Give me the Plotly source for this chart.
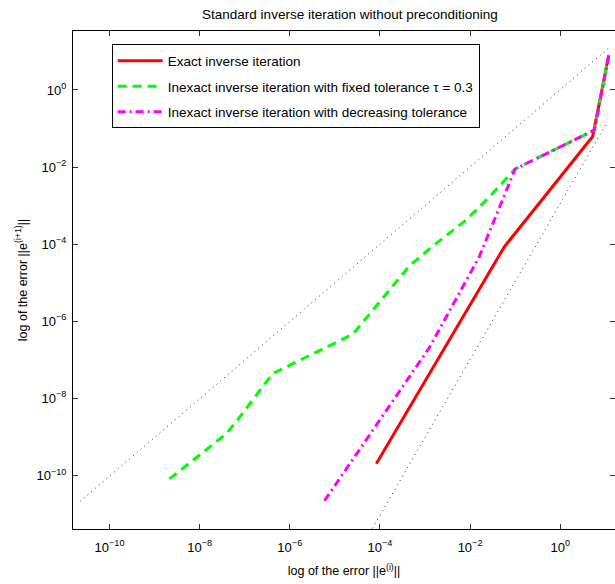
import plotly.graph_objects as go

# Data
exact_x = [8.3e-5, 5.75e-2, 5.25, 12.0]
exact_y = [2.0e-10, 8.5e-5, 6.2e-2, 8.1]

fixed_x = [2.14e-9, 1.0e-8, 3.9e-8, 7.8e-8, 4.2e-7, 8.3e-7, 2.5e-5, 4.2e-5,
           1.38e-4, 4.6e-4, 1.78e-3, 8.1e-3, 2.7e-2, 0.1, 5.75, 12.0]
fixed_y = [8.1e-11, 3.3e-10, 1.2e-9, 3.3e-9, 4.4e-8, 6.5e-8, 4.6e-7, 9.5e-7,
           5.2e-6, 2.8e-5, 1.05e-4, 4.2e-4, 1.7e-3, 8.9e-3, 9.1e-2, 8.1]

decr_x = [5.9e-6, 1.26e-3, 1.6e-2, 6.9e-2, 0.1, 5.75, 12.0]
decr_y = [2.2e-11, 2.1e-7, 4.7e-5, 3.1e-3, 8.9e-3, 9.1e-2, 8.1]

ref1_x = [2.2e-11, 11.7]
ref1_y = [2.1e-11, 12.0]
ref2_x = [6.8e-5, 11.2]
ref2_y = [4.2e-12, 0.15]

tick_vals = [1e-10, 1e-8, 1e-6, 1e-4, 1e-2, 1e0]
tick_text = ["10<sup>\u221210</sup>", "10<sup>\u22128</sup>", "10<sup>\u22126</sup>",
             "10<sup>\u22124</sup>", "10<sup>\u22122</sup>", "10<sup>0</sup>"]

names = ["Exact inverse iteration",
         "Inexact inverse iteration with fixed tolerance \u03c4 = 0.3",
         "Inexact inverse iteration with decreasing tolerance"]

FONT = "Liberation Sans, Arial, sans-serif"

fig = go.Figure()
fig.add_trace(go.Scatter(x=ref1_x, y=ref1_y, mode="lines", showlegend=False,
                         line=dict(color="#333333", width=1, dash="1px,4px")))
fig.add_trace(go.Scatter(x=ref2_x, y=ref2_y, mode="lines", showlegend=False,
                         line=dict(color="#333333", width=1, dash="1px,4px")))
fig.add_trace(go.Scatter(x=exact_x, y=exact_y, mode="lines", name=names[0],
                         legendgroup="a",
                         line=dict(color="#FF0000", width=3)))
fig.add_trace(go.Scatter(x=fixed_x, y=fixed_y, mode="lines", name=names[1],
                         legendgroup="b",
                         line=dict(color="#00FF00", width=3, dash="9px,6px")))
fig.add_trace(go.Scatter(x=decr_x, y=decr_y, mode="lines", name=names[2],
                         legendgroup="c",
                         line=dict(color="#FF00FF", width=3, dash="8px,4px,2px,4px")))

axis_common = dict(type="log", tickmode="array", tickvals=tick_vals, ticktext=tick_text,
                   showgrid=False, zeroline=False,
                   showline=True, linecolor="black", linewidth=1, mirror="ticks",
                   ticks="inside", ticklen=5, tickcolor="#333333",
                   tickfont=dict(family=FONT, size=13, color="black"))

fig.update_layout(
    width=615, height=584,
    margin=dict(l=73, r=0, t=31, b=55),
    plot_bgcolor="white", paper_bgcolor="white",
    title=dict(text="Standard inverse iteration without preconditioning",
               x=0.569, xanchor="center", y=1 - 14 / 584, yanchor="middle",
               font=dict(family=FONT, size=13.5, color="black")),
    xaxis=dict(axis_common, range=[-10.81, 1.216], ticklabelstandoff=6,
               title=dict(text="log of the error ||e<sup>(i)</sup>||",
                          font=dict(family=FONT, size=12.5, color="black"),
                          standoff=12)),
    yaxis=dict(axis_common, range=[-11.39, 1.53], ticklabelstandoff=3,
               title=dict(text="log of the error ||e<sup>(i+1)</sup>||",
                          font=dict(family=FONT, size=12.5, color="black"),
                          standoff=6)),
    legend=dict(x=0.0714, y=0.973, xanchor="left", yanchor="top",
                bgcolor="white", bordercolor="black", borderwidth=1,
                font=dict(family=FONT, size=13.5, color="black"),
                tracegroupgap=5, traceorder="grouped", itemwidth=45),
    showlegend=True,
)

fig.write_html("out.html")
